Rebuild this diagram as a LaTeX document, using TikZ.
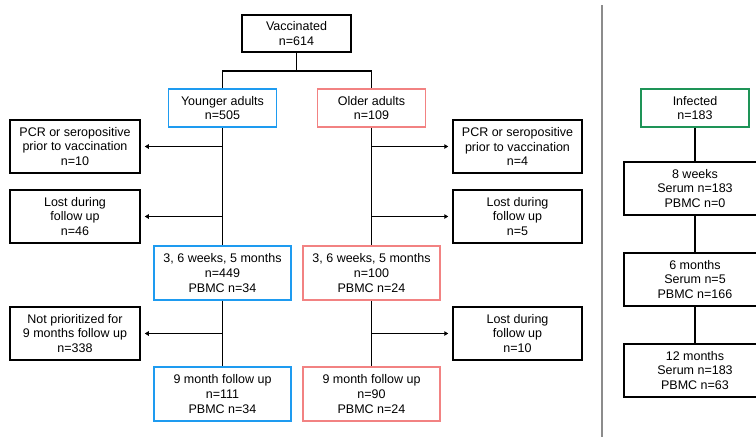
\documentclass[tikz,border=0pt]{standalone}
\usepackage{fontspec}
\setmainfont{Liberation Sans}
\usetikzlibrary{arrows.meta}
\definecolor{cblue}{HTML}{1E9BF0}
\definecolor{cpink}{HTML}{F28282}
\definecolor{cgreen}{HTML}{1E9457}
\definecolor{cgray}{HTML}{8C8C8C}
\tikzset{
  box/.style={draw=black, line width=1.5pt, fill=white, align=center, inner sep=0pt,
     font=\fontsize{12.5}{14.6}\selectfont},
  bbox/.style={box, draw=cblue, line width=1.9pt},
  pbox/.style={box, draw=cpink, line width=1.9pt},
  gbox/.style={box, draw=cgreen, line width=1.9pt},
  conn/.style={line width=1.6pt},
  arr/.style={conn, -{Triangle[length=4pt,width=4.5pt]}, shorten >=4pt},
}
\begin{document}
\begin{tikzpicture}[x=1pt,y=-1pt]
\useasboundingbox (0,0) rectangle (756,437);
% divider
\draw[cgray, line width=2.4pt] (602,5) -- (602,437);

% vaccinated column
\node[box, minimum width=109pt, minimum height=37pt] (vac) at (296.5,33.5) {Vaccinated\\n=614};
\node[bbox, minimum width=108pt, minimum height=38pt] (young) at (222.5,108) {Younger adults\\n=505};
\node[pbox, minimum width=108pt, minimum height=38pt] (old) at (371.5,108) {Older adults\\n=109};

\node[box, minimum width=130pt, minimum height=53pt] (pcrL) at (75,146.5) {PCR or seropositive\\prior to vaccination\\n=10};
\node[box, minimum width=130pt, minimum height=53pt] (lostL) at (75,216.5) {Lost during\\follow up\\n=46};
\node[box, minimum width=130pt, minimum height=53pt] (notL) at (75,333.5) {Not prioritized for\\9 months follow up\\n=338};

\node[box, minimum width=129pt, minimum height=53pt] (pcrR) at (517.5,146.5) {PCR or seropositive\\prior to vaccination\\n=4};
\node[box, minimum width=129pt, minimum height=53pt] (lostR) at (517.5,216.5) {Lost during\\follow up\\n=5};
\node[box, minimum width=129pt, minimum height=53pt] (lostRR) at (517.5,333.5) {Lost during\\follow up\\n=10};

\node[bbox, minimum width=137pt, minimum height=54pt] (y3) at (222.5,273) {3, 6 weeks, 5 months\\n=449\\PBMC n=34};
\node[pbox, minimum width=137pt, minimum height=54pt] (o3) at (371.5,273) {3, 6 weeks, 5 months\\n=100\\PBMC n=24};
\node[bbox, minimum width=137pt, minimum height=54pt] (y9) at (222.5,394) {9 month follow up\\n=111\\PBMC n=34};
\node[pbox, minimum width=137pt, minimum height=54pt] (o9) at (371.5,394) {9 month follow up\\n=90\\PBMC n=24};

\coordinate (split) at (296.5,71);
\draw[conn] (vac.south) -- (split);
\draw[conn] (young.north) |- (split) -| (old.north);

\draw[conn] (young.south) -- (y3.north);
\draw[conn] (old.south) -- (o3.north);
\draw[conn] (y3.south) -- (y9.north);
\draw[conn] (o3.south) -- (o9.north);

\draw[arr] (young.south |- pcrL.east) -- (pcrL.east);
\draw[arr] (young.south |- lostL.east) -- (lostL.east);
\draw[arr] (y3.south |- notL.east) -- (notL.east);
\draw[arr] (old.south |- pcrR.west) -- (pcrR.west);
\draw[arr] (old.south |- lostR.west) -- (lostR.west);
\draw[arr] (o3.south |- lostRR.west) -- (lostRR.west);

% infected column
\node[gbox, minimum width=108pt, minimum height=38pt] (inf) at (695,108) {Infected\\n=183};
\node[box, minimum width=142pt, minimum height=53pt] (w8) at (695,188.5) {8 weeks\\Serum n=183\\PBMC n=0};
\node[box, minimum width=142pt, minimum height=53pt] (m6) at (695,279.5) {6 months\\Serum n=5\\PBMC n=166};
\node[box, minimum width=142pt, minimum height=53pt] (m12) at (695,370.5) {12 months\\Serum n=183\\PBMC n=63};
\draw[conn] (inf.south) -- (w8.north);
\draw[conn] (w8.south) -- (m6.north);
\draw[conn] (m6.south) -- (m12.north);
\end{tikzpicture}
\end{document}
